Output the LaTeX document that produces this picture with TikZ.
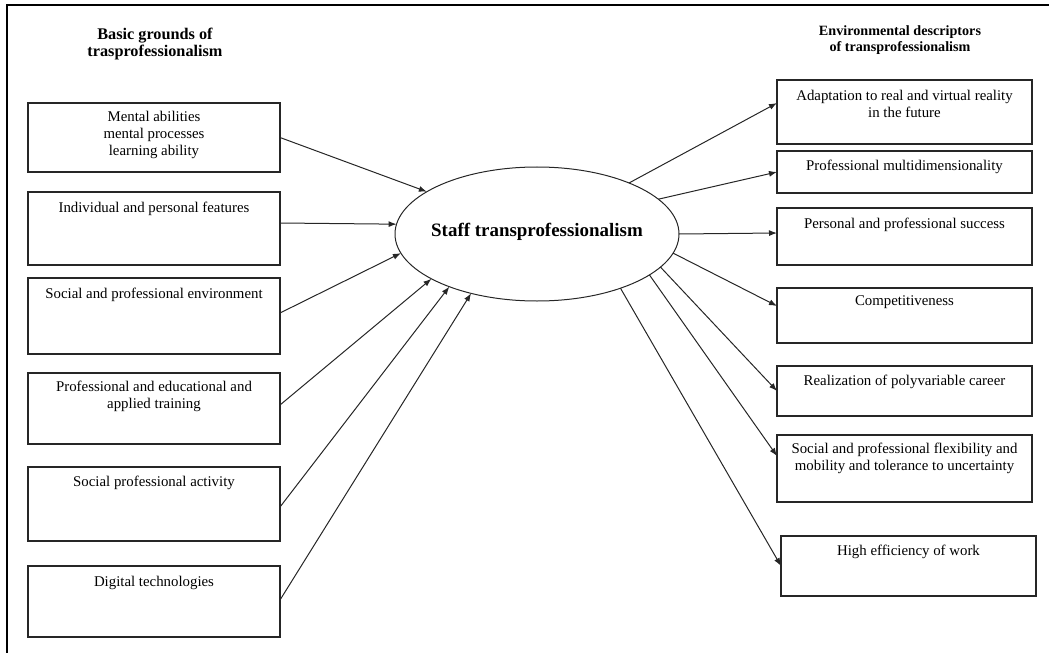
\documentclass[tikz,border=0pt]{standalone}
\usepackage{fontspec}
\setmainfont{Liberation Serif}
\usetikzlibrary{arrows.meta,shapes.geometric}
\begin{document}
\begin{tikzpicture}[x=1bp,y=-1bp,
  lbox/.style={draw=black!85, line width=1.1bp, minimum width=252bp, inner sep=0pt, outer sep=0pt},
  rbox/.style={lbox, minimum width=255bp},
  txt/.style={anchor=north, inner sep=0pt, align=center, font=\fontsize{14.9}{17}\selectfont},
  arr/.style={draw=black!85, line width=1bp, -{Latex[length=8bp,width=6bp]}},
  ttl/.style={align=center, inner sep=0pt, font=\bfseries\fontsize{16.3}{18}\selectfont},
  ttlr/.style={align=center, inner sep=0pt, font=\bfseries\fontsize{14.2}{16}\selectfont},
]
\useasboundingbox (0,0) rectangle (1049,653);
% frame
\draw[line width=2bp] (7,653) -- (7,5) -- (1049,5);

% titles
\node[ttl] (tl) at (155,44) {Basic grounds of\\trasprofessionalism};
\node[ttlr] (tr) at (900,40) {Environmental descriptors\\of transprofessionalism};

% left boxes
\node[lbox, minimum height=69bp] (l1) at (154,137.5) {};
\node[lbox, minimum height=73bp] (l2) at (154,228.5) {};
\node[lbox, minimum height=76bp] (l3) at (154,316) {};
\node[lbox, minimum height=71bp] (l4) at (154,408.5) {};
\node[lbox, minimum height=74bp] (l5) at (154,504) {};
\node[lbox, minimum height=71bp] (l6) at (154,601.5) {};
\node[txt] (l1t) at ([yshift=-8bp]l1.north) {Mental abilities\\mental processes\\learning ability};
\node[txt] (l2t) at ([yshift=-10bp]l2.north) {Individual and personal features};
\node[txt] (l3t) at ([yshift=-10bp]l3.north) {Social and professional environment};
\node[txt] (l4t) at ([yshift=-8bp]l4.north) {Professional and educational and\\applied training};
\node[txt] (l5t) at ([yshift=-9bp]l5.north) {Social professional activity};
\node[txt] (l6t) at ([yshift=-10bp]l6.north) {Digital technologies};

% right boxes
\node[rbox, minimum height=64bp] (r1) at (904.5,112) {};
\node[rbox, minimum height=42bp] (r2) at (904.5,172) {};
\node[rbox, minimum height=57bp] (r3) at (904.5,236.5) {};
\node[rbox, minimum height=55bp] (r4) at (904.5,315.5) {};
\node[rbox, minimum height=50bp] (r5) at (904.5,391) {};
\node[rbox, minimum height=67bp] (r6) at (904.5,468.5) {};
\node[rbox, minimum height=60bp] (r7) at (908.5,566) {};
\node[txt] (r1t) at ([yshift=-10bp]r1.north) {Adaptation to real and virtual reality\\in the future};
\node[txt] (r2t) at ([yshift=-9bp]r2.north) {Professional multidimensionality};
\node[txt] (r3t) at ([yshift=-10bp]r3.north) {Personal and professional success};
\node[txt] (r4t) at ([yshift=-7bp]r4.north) {Competitiveness};
\node[txt] (r5t) at ([yshift=-9bp]r5.north) {Realization of polyvariable career};
\node[txt] (r6t) at ([yshift=-8bp]r6.north) {Social and professional flexibility and\\mobility and tolerance to uncertainty};
\node[txt] (r7t) at ([yshift=-9bp]r7.north) {High efficiency of work};

% central ellipse
\node[draw=black!85, line width=1bp, ellipse, minimum width=284bp, minimum height=134bp, inner sep=0pt, outer sep=0pt] (st) at (537,234) {};
\node[inner sep=0pt, font=\bfseries\fontsize{19}{22}\selectfont] (stt) at (537,232) {Staff transprofessionalism};

% incoming arrows
\draw[arr] (l1.east) -- (st.159);
\draw[arr] ([yshift=5.5bp]l2.east) -- (st.176);
\draw[arr] ([yshift=3bp]l3.east) -- (st.188);
\draw[arr] ([yshift=3.5bp]l4.east) -- (st.203);
\draw[arr] ([yshift=-3bp]l5.east) -- (st.211);
\draw[arr] ([yshift=1.5bp]l6.east) -- (st.222);

% outgoing arrows
\draw[arr] (st.29) -- ([yshift=9bp]r1.west);
\draw[arr] (st.16) -- (r2.west);
\draw[arr] (st.0) -- ([yshift=3.5bp]r3.west);
\draw[arr] (st.352) -- ([yshift=9.5bp]r4.west);
\draw[arr] (st.345) -- (r5.west);
\draw[arr] (st.340) -- ([yshift=12.5bp]r6.west);
\draw[arr] (st.327) -- (r7.west);
\end{tikzpicture}
\end{document}
